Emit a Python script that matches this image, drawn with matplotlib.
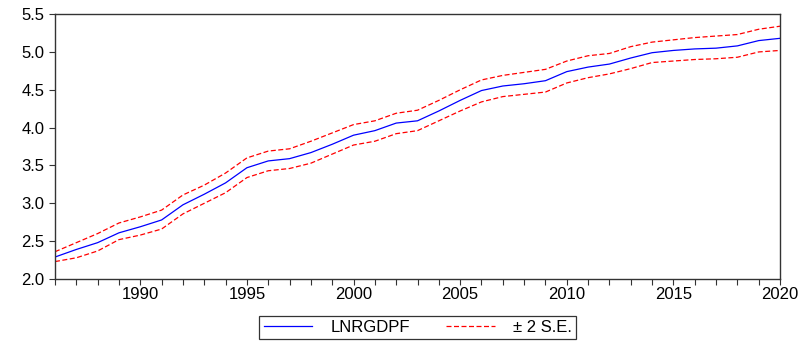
import numpy as np
import matplotlib
matplotlib.use("Agg")
import matplotlib.pyplot as plt
from matplotlib.ticker import MultipleLocator

# Forecast series (log real GDP) and +/- 2 S.E. bands
years = np.arange(1986, 2021)
forecast = [2.29, 2.39, 2.48, 2.61, 2.69, 2.78, 2.98, 3.12, 3.27, 3.47,
            3.56, 3.59, 3.67, 3.78, 3.90, 3.96, 4.06, 4.09, 4.22, 4.36,
            4.49, 4.55, 4.58, 4.62, 4.74, 4.80, 4.84, 4.92, 4.99, 5.02,
            5.04, 5.05, 5.08, 5.15, 5.18]
upper = [2.36, 2.48, 2.60, 2.74, 2.82, 2.91, 3.11, 3.24, 3.40, 3.60,
         3.69, 3.72, 3.82, 3.93, 4.04, 4.09, 4.19, 4.23, 4.36, 4.50,
         4.63, 4.69, 4.73, 4.77, 4.88, 4.95, 4.98, 5.07, 5.13, 5.16,
         5.19, 5.21, 5.23, 5.30, 5.34]
lower = [2.23, 2.28, 2.37, 2.52, 2.58, 2.66, 2.86, 3.00, 3.14, 3.34,
         3.43, 3.46, 3.53, 3.65, 3.77, 3.82, 3.92, 3.96, 4.09, 4.22,
         4.34, 4.41, 4.44, 4.47, 4.59, 4.66, 4.71, 4.78, 4.86, 4.88,
         4.90, 4.91, 4.93, 5.00, 5.02]

plt.rcParams["font.family"] = ["Liberation Sans", "DejaVu Sans"]

fig = plt.figure(figsize=(8.05, 3.44), dpi=100)
ax = fig.add_axes([0.0683, 0.189, 0.9007, 0.770])

ax.plot(years, forecast, color="#0000ff", lw=0.9, label="LNRGDPF")
ax.plot(years, upper, color="#ff0000", lw=0.9, ls=(0, (4, 2)), label="± 2 S.E.")
ax.plot(years, lower, color="#ff0000", lw=0.9, ls=(0, (4, 2)))

ax.set_xlim(1986, 2020)
ax.set_ylim(2.0, 5.5)
ax.xaxis.set_major_locator(MultipleLocator(5))
ax.xaxis.set_minor_locator(MultipleLocator(1))
ax.yaxis.set_major_locator(MultipleLocator(0.5))
ax.yaxis.set_major_formatter(matplotlib.ticker.FormatStrFormatter("%.1f"))

ax.tick_params(axis="both", which="both", direction="out", length=4,
               width=0.8, labelsize=12, color="#333333")
ax.tick_params(axis="x", pad=2)
for s in ax.spines.values():
    s.set_color("#333333")
    s.set_linewidth(1.0)

leg = fig.legend(loc="center", bbox_to_anchor=(0.519, 0.047), ncol=2,
                 fontsize=12, frameon=True, fancybox=False,
                 edgecolor="black", handlelength=2.9, columnspacing=2.2,
                 borderpad=0.25, handletextpad=1.1)
leg.get_frame().set_linewidth(0.9)

fig.savefig("out.png", dpi=100, facecolor="white")
